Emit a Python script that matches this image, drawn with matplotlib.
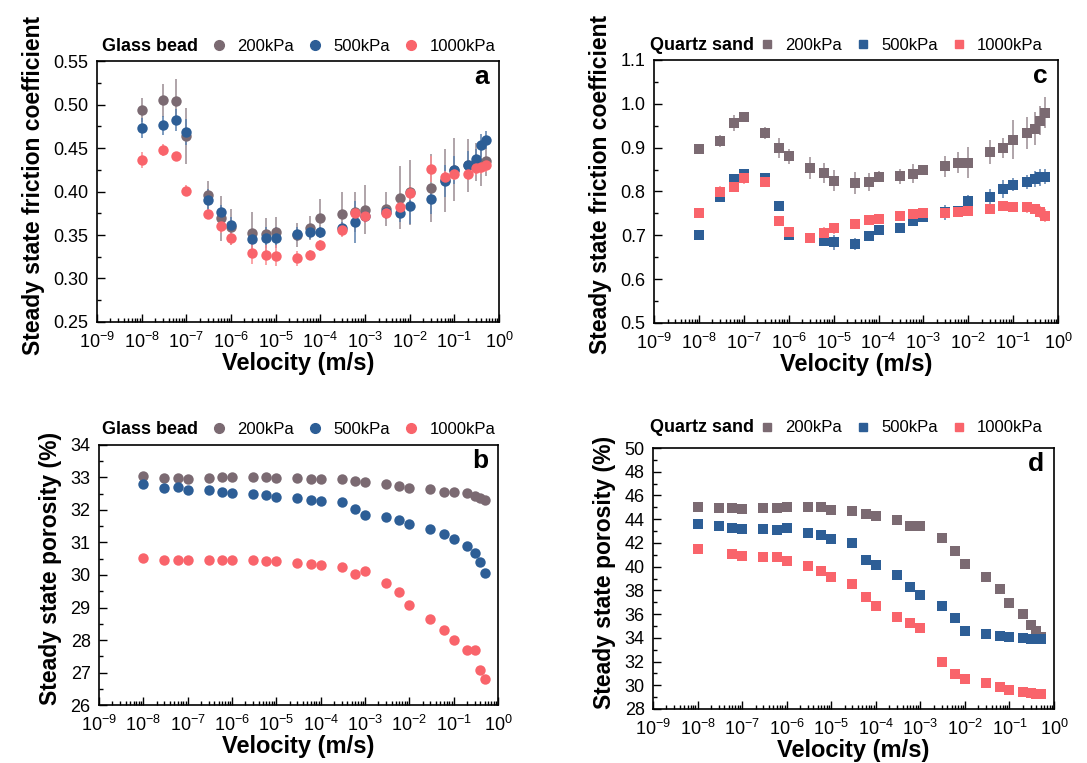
import numpy as np
import matplotlib
matplotlib.use("Agg")
import matplotlib.pyplot as plt
from matplotlib.ticker import LogLocator, MultipleLocator, FormatStrFormatter, NullFormatter

plt.rcParams['font.family'] = ['Liberation Sans', 'DejaVu Sans']
plt.rcParams['mathtext.fontset'] = 'custom'
plt.rcParams['mathtext.rm'] = 'Liberation Sans'
plt.rcParams['mathtext.it'] = 'Liberation Sans:italic'
plt.rcParams['mathtext.bf'] = 'Liberation Sans:bold'

# velocities (m/s)
velocity = [1e-8, 3e-8, 6e-8, 1e-7, 3e-7, 6e-7, 1e-6, 3e-6, 6e-6, 1e-5, 3e-5, 6e-5,
            1e-4, 3e-4, 6e-4, 1e-3, 3e-3, 6e-3, 1e-2, 3e-2, 6e-2, 0.1, 0.2, 0.3, 0.4, 0.5]
pressures = ['200kPa', '500kPa', '1000kPa']

# (a) glass bead friction
gb_mu_200 = [0.494, 0.505, 0.504, 0.464, 0.396, 0.369, 0.359, 0.352, 0.351, 0.354, 0.350, 0.358, 0.370,
             0.374, 0.377, 0.379, 0.380, 0.393, 0.399, 0.404, 0.413, 0.425, 0.430, 0.434, 0.432, 0.435]
gb_mu_200_err = [0.014, 0.019, 0.025, 0.032, 0.016, 0.026, 0.021, 0.025, 0.019, 0.017, 0.014, 0.014, 0.021,
                 0.025, 0.023, 0.028, 0.020, 0.036, 0.037, 0.039, 0.036, 0.036, 0.030, 0.022, 0.026, 0.017]
gb_mu_500 = [0.473, 0.476, 0.482, 0.468, 0.390, 0.376, 0.361, 0.345, 0.347, 0.347, 0.351, 0.353, 0.353,
             0.358, 0.365, 0.372, 0.376, 0.375, 0.383, 0.391, 0.412, 0.425, 0.431, 0.437, 0.453, 0.459]
gb_mu_500_err = [0.012, 0.011, 0.013, 0.015, 0.013, 0.008, 0.010, 0.010, 0.012, 0.012, 0.008, 0.008, 0.006,
                 0.007, 0.024, 0.008, 0.008, 0.010, 0.020, 0.017, 0.018, 0.016, 0.016, 0.012, 0.013, 0.010]
gb_mu_1000 = [0.436, 0.448, 0.441, 0.401, 0.374, 0.360, 0.347, 0.329, 0.327, 0.326, 0.323, 0.327, 0.338,
              0.356, 0.375, 0.372, 0.375, 0.382, 0.398, 0.426, 0.417, 0.420, 0.420, 0.427, 0.428, 0.430]
gb_mu_1000_err = [0.009, 0.007, 0.005, 0.006, 0.005, 0.008, 0.009, 0.012, 0.011, 0.012, 0.009, 0.006, 0.006,
                  0.008, 0.006, 0.008, 0.006, 0.005, 0.008, 0.015, 0.007, 0.007, 0.007, 0.008, 0.008, 0.008]

# (c) quartz sand friction
qs_mu_200 = [0.897, 0.915, 0.956, 0.970, 0.933, 0.900, 0.880, 0.854, 0.843, 0.825, 0.819, 0.822, 0.834,
             0.835, 0.841, 0.849, 0.857, 0.866, 0.866, 0.890, 0.900, 0.918, 0.933, 0.943, 0.961, 0.980]
qs_mu_200_err = [0.011, 0.014, 0.019, 0.011, 0.014, 0.023, 0.017, 0.025, 0.023, 0.025, 0.025, 0.021, 0.012,
                 0.017, 0.021, 0.011, 0.023, 0.023, 0.036, 0.028, 0.023, 0.044, 0.036, 0.038, 0.033, 0.036]
qs_mu_500 = [0.701, 0.788, 0.828, 0.841, 0.830, 0.767, 0.701, 0.695, 0.687, 0.684, 0.680, 0.698, 0.712,
             0.716, 0.733, 0.741, 0.753, 0.756, 0.778, 0.788, 0.806, 0.815, 0.821, 0.828, 0.832, 0.834]
qs_mu_500_err = [0.010, 0.012, 0.012, 0.010, 0.008, 0.010, 0.008, 0.010, 0.012, 0.017, 0.013, 0.010, 0.008,
                 0.010, 0.012, 0.010, 0.017, 0.012, 0.015, 0.017, 0.020, 0.015, 0.016, 0.018, 0.020, 0.018]
qs_mu_1000 = [0.752, 0.799, 0.811, 0.830, 0.822, 0.733, 0.707, 0.695, 0.706, 0.716, 0.726, 0.734, 0.737,
              0.744, 0.749, 0.750, 0.752, 0.754, 0.756, 0.759, 0.767, 0.765, 0.764, 0.760, 0.753, 0.745]
qs_mu_1000_err = [0.008, 0.013, 0.012, 0.012, 0.010, 0.012, 0.010, 0.010, 0.012, 0.012, 0.012, 0.008, 0.010,
                  0.010, 0.010, 0.010, 0.012, 0.012, 0.012, 0.010, 0.010, 0.008, 0.012, 0.012, 0.014, 0.014]

# (b) glass bead porosity (%)
gb_phi_200 = [33.05, 32.97, 32.97, 32.96, 32.98, 33.01, 33.01, 33.03, 33.01, 32.99, 32.97, 32.95, 32.95,
              32.96, 32.90, 32.86, 32.80, 32.74, 32.68, 32.64, 32.55, 32.55, 32.51, 32.44, 32.38, 32.32]
gb_phi_500 = [32.80, 32.67, 32.70, 32.61, 32.60, 32.55, 32.52, 32.50, 32.46, 32.40, 32.36, 32.31, 32.28,
              32.25, 32.02, 31.86, 31.79, 31.69, 31.58, 31.43, 31.25, 31.11, 30.90, 30.67, 30.41, 30.06]
gb_phi_1000 = [30.53, 30.47, 30.46, 30.45, 30.47, 30.46, 30.47, 30.45, 30.44, 30.42, 30.38, 30.35, 30.32,
               30.25, 30.03, 30.13, 29.75, 29.49, 29.07, 28.64, 28.31, 27.99, 27.69, 27.69, 27.08, 26.80]

# (d) quartz sand porosity (%), no 3e-8 point at 1000kPa
qs_phi_200 = [45.06, 44.92, 44.92, 44.86, 44.92, 44.97, 45.06, 45.06, 45.00, 44.78, 44.66, 44.41, 44.24,
              43.90, 43.40, 43.40, 42.44, 41.32, 40.25, 39.16, 38.15, 36.97, 36.04, 35.11, 34.61, 34.08]
qs_phi_500 = [43.60, 43.40, 43.26, 43.15, 43.15, 43.06, 43.23, 42.87, 42.64, 42.30, 41.99, 40.53, 40.11,
              39.33, 38.29, 37.61, 36.66, 35.67, 34.58, 34.33, 34.19, 34.04, 33.96, 33.88, 33.88, 33.88]
qs_phi_1000 = [41.46, np.nan, 41.07, 40.93, 40.84, 40.79, 40.45, 40.03, 39.61, 39.10, 38.54, 37.47, 36.66,
               35.76, 35.25, 34.83, 31.97, 30.98, 30.56, 30.17, 29.83, 29.61, 29.44, 29.35, 29.30, 29.27]

colors = ['#7b6a72', '#2d5e96', '#f9646b']
err_colors = ['#9a8c92', '#5a80ad', '#fb8c90']

fig = plt.figure(figsize=(10.87, 7.63), dpi=100)
ax_a = fig.add_axes([0.0892, 0.578, 0.370, 0.342])
ax_c = fig.add_axes([0.6017, 0.5767, 0.3717, 0.3447])
ax_b = fig.add_axes([0.0911, 0.0760, 0.367, 0.3408])
ax_d = fig.add_axes([0.6007, 0.0708, 0.369, 0.342])


def style_axis(ax, ylim, major, minor, fmt, ylabel, letter):
    ax.set_xscale('log')
    ax.set_xlim(1e-9, 1)
    ax.set_ylim(*ylim)
    ax.xaxis.set_major_locator(LogLocator(base=10, numticks=20))
    ax.xaxis.set_minor_locator(LogLocator(base=10, subs=np.arange(2, 10), numticks=20))
    ax.xaxis.set_minor_formatter(NullFormatter())
    ax.yaxis.set_major_locator(MultipleLocator(major))
    ax.yaxis.set_minor_locator(MultipleLocator(minor))
    ax.yaxis.set_major_formatter(FormatStrFormatter(fmt))
    ax.tick_params(which='both', direction='in', labelsize=13, width=1)
    ax.tick_params(which='major', length=6, pad=6)
    ax.tick_params(which='minor', length=3)
    ax.tick_params(axis='x', which='major', pad=7)
    for s in ax.spines.values():
        s.set_linewidth(1.2)
    ax.set_xlabel('Velocity (m/s)', fontsize=17, fontweight='bold', labelpad=0)
    ax.set_ylabel(ylabel, fontsize=16.5, fontweight='bold', labelpad=6)
    ax.yaxis.label.set_y(0.525)
    ax.text(0.975, 0.94, letter, transform=ax.transAxes, ha='right', va='center',
            fontsize=19, fontweight='bold')


def add_legend(ax, title, marker, x0, y0):
    ax.text(x0, y0, title, transform=fig.transFigure, ha='left', va='center',
            fontsize=13, fontweight='bold')
    handles = [plt.Line2D([], [], ls='none', marker=marker, color=c, markersize=7 if marker == 'o' else 6)
               for c in colors]
    ax.legend(handles, pressures, ncol=3, frameon=False, fontsize=12, loc='center left',
              bbox_to_anchor=(x0 + 0.1, y0), bbox_transform=fig.transFigure,
              borderpad=0, borderaxespad=0, handlelength=1.0, handletextpad=0.6,
              columnspacing=0.75)


# friction panels with error bars
for ax, series, errs, mk, ms in [
        (ax_a, [gb_mu_200, gb_mu_500, gb_mu_1000], [gb_mu_200_err, gb_mu_500_err, gb_mu_1000_err], 'o', 7.5),
        (ax_c, [qs_mu_200, qs_mu_500, qs_mu_1000], [qs_mu_200_err, qs_mu_500_err, qs_mu_1000_err], 's', 6.5)]:
    for y, e, c, ec in zip(series, errs, colors, err_colors):
        ax.errorbar(velocity, y, yerr=e, fmt=mk, color=c, ecolor=ec, markersize=ms,
                    markeredgewidth=0, elinewidth=1.1, capsize=3.5, capthick=1.1)

# porosity panels
for ax, series, mk, ms in [(ax_b, [gb_phi_200, gb_phi_500, gb_phi_1000], 'o', 7.5),
                           (ax_d, [qs_phi_200, qs_phi_500, qs_phi_1000], 's', 6.5)]:
    for y, c in zip(series, colors):
        ax.plot(velocity, y, ls='none', marker=mk, color=c, markersize=ms, markeredgewidth=0)

style_axis(ax_a, (0.25, 0.55), 0.05, 0.025, '%.2f', 'Steady state friction coefficient', 'a')
style_axis(ax_c, (0.5, 1.1), 0.1, 0.05, '%.1f', 'Steady state friction coefficient', 'c')
style_axis(ax_b, (26, 34), 1, 0.5, '%d', 'Steady state porosity (%)', 'b')
style_axis(ax_d, (28, 50), 2, 1, '%d', 'Steady state porosity (%)', 'd')

add_legend(ax_a, 'Glass bead', 'o', 0.094, 0.9397)
add_legend(ax_c, 'Quartz sand', 's', 0.598, 0.941)
add_legend(ax_b, 'Glass bead', 'o', 0.094, 0.4377)
add_legend(ax_d, 'Quartz sand', 's', 0.598, 0.4391)

fig.savefig('out.png', dpi=100)
